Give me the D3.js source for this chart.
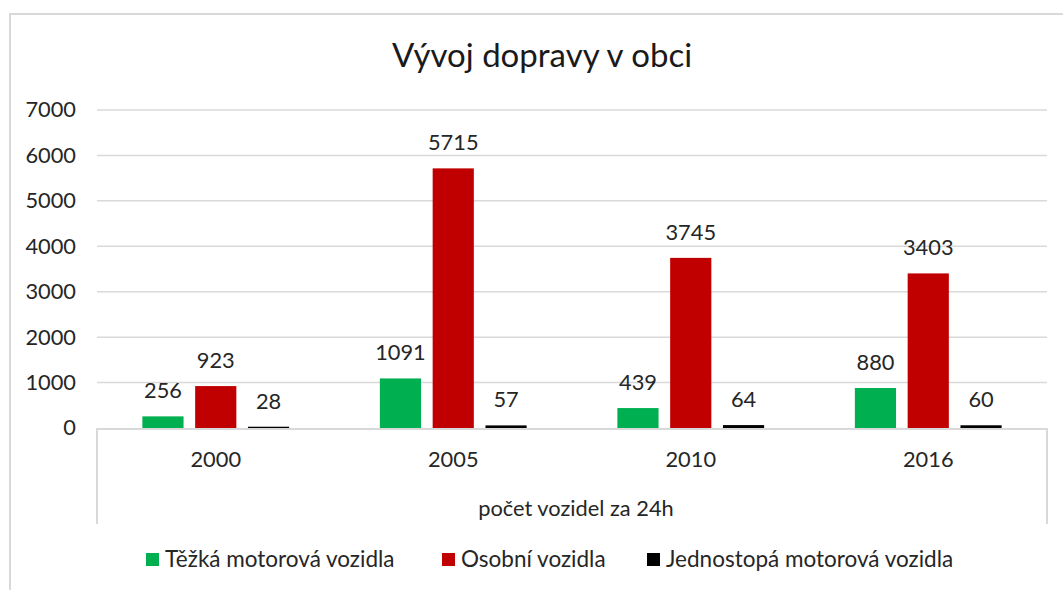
<!DOCTYPE html>
<html>
<head>
<meta charset="utf-8">
<script src="https://cdn.jsdelivr.net/npm/d3@7"></script>
<style>
  body { margin: 0; background: #fff; }
  svg { font-family: Lato, "Open Sans", sans-serif; }
</style>
</head>
<body>
<div id="chart"></div>
<script>
// chart data
var years = ["2000", "2005", "2010", "2016"];
var seriesNames = ["Těžká motorová vozidla", "Osobní vozidla", "Jednostopá motorová vozidla"];
var heavy = [256, 1091, 439, 880];
var cars = [923, 5715, 3745, 3403];
var bikes = [28, 57, 64, 60];
var yTicks = [0, 1000, 2000, 3000, 4000, 5000, 6000, 7000];
var colors = ["#00b050", "#c00000", "#000000"];

var svgWidth = 1063;
var svgHeight = 590;
var fs = 21.8;

var plot = { left: 97, right: 1047, top: 110, bottom: 428 };

var svg = d3.select("#chart")
  .append("svg")
  .attr("width", svgWidth)
  .attr("height", svgHeight);

// outer chart frame (runs off the right and bottom)
svg.append("rect")
  .attr("x", 10)
  .attr("y", 14)
  .attr("width", 1100)
  .attr("height", 700)
  .attr("fill", "none")
  .attr("stroke", "#d9d9d9")
  .attr("stroke-width", 2);

// title
svg.append("text")
  .attr("x", 542)
  .attr("y", 67)
  .attr("text-anchor", "middle")
  .attr("font-size", 33)
  .attr("fill", "#1a1a1a")
  .text("Vývoj dopravy v obci");

var x0 = d3.scaleBand()
  .domain(years)
  .range([plot.left, plot.right])
  .paddingInner(0.382)
  .paddingOuter(0.191);

var x1 = d3.scaleBand()
  .domain(d3.range(3))
  .range([0, x0.bandwidth()])
  .paddingInner(0.22);

var y = d3.scaleLinear()
  .domain([0, 7000])
  .range([plot.bottom, plot.top]);

// gridlines
svg.append("g")
  .selectAll("line")
  .data(yTicks.filter(d => d > 0))
  .enter().append("line")
    .attr("x1", plot.left)
    .attr("x2", plot.right)
    .attr("y1", d => y(d))
    .attr("y2", d => y(d))
    .attr("stroke", "#d9d9d9")
    .attr("stroke-width", 1.5);

// y axis labels
var leftAxis = d3.axisLeft(y).tickValues(yTicks).tickFormat(d3.format("d")).tickSize(0).tickPadding(21);
var yAxis = svg.append("g")
  .attr("transform", `translate(${plot.left}, 0)`)
  .call(leftAxis);
yAxis.select(".domain").remove();
yAxis.selectAll("text")
  .attr("font-family", "Lato, sans-serif")
  .attr("font-size", fs)
  .attr("fill", "#262626");

// bars
var seriesValues = [heavy, cars, bikes];
var rows = [];
seriesValues.forEach(function(vals, s) {
  vals.forEach(function(v, i) {
    rows.push({ year: years[i], s: s, value: v });
  });
});

svg.append("g")
  .selectAll("rect")
  .data(rows)
  .enter().append("rect")
    .attr("x", d => x0(d.year) + x1(d.s))
    .attr("y", d => y(d.value))
    .attr("width", x1.bandwidth())
    .attr("height", d => y(0) - y(d.value))
    .attr("fill", d => colors[d.s]);

// category axis box (drawn over the bar bases)
var box = svg.append("g")
  .attr("stroke", "#d9d9d9")
  .attr("stroke-width", 2)
  .attr("fill", "none");
box.append("path")
  .attr("d", `M${plot.left},524V${plot.bottom + 1}H${plot.right}V524`);

var bottomAxis = d3.axisBottom(x0).tickSize(0).tickPadding(24);
var xAxis = svg.append("g")
  .attr("transform", `translate(0, ${plot.bottom})`)
  .call(bottomAxis);
xAxis.select(".domain").remove();
xAxis.selectAll("text")
  .attr("font-family", "Lato, sans-serif")
  .attr("font-size", fs)
  .attr("fill", "#262626");

svg.append("text")
  .attr("x", (plot.left + plot.right) / 2 + 4)
  .attr("y", 516)
  .attr("text-anchor", "middle")
  .attr("font-size", fs)
  .attr("fill", "#262626")
  .text("počet vozidel za 24h");

// data labels
svg.append("g")
  .selectAll("text")
  .data(rows)
  .enter().append("text")
    .attr("x", d => x0(d.year) + x1(d.s) + x1.bandwidth() / 2)
    .attr("y", d => y(d.value) - 18)
    .attr("text-anchor", "middle")
    .attr("font-size", fs)
    .attr("fill", "#262626")
    .text(d => d.value);

// legend
var legend = svg.append("g");
var legendX = [146, 442, 647];
seriesNames.forEach(function(name, i) {
  var item = legend.append("g").attr("transform", `translate(${legendX[i]}, 553)`);
  item.append("rect")
    .attr("width", 13)
    .attr("height", 13)
    .attr("fill", colors[i]);
  item.append("text")
    .attr("x", 19)
    .attr("y", 14)
    .attr("font-size", 22.5)
    .attr("fill", "#262626")
    .text(name);
});
</script>
</body>
</html>
